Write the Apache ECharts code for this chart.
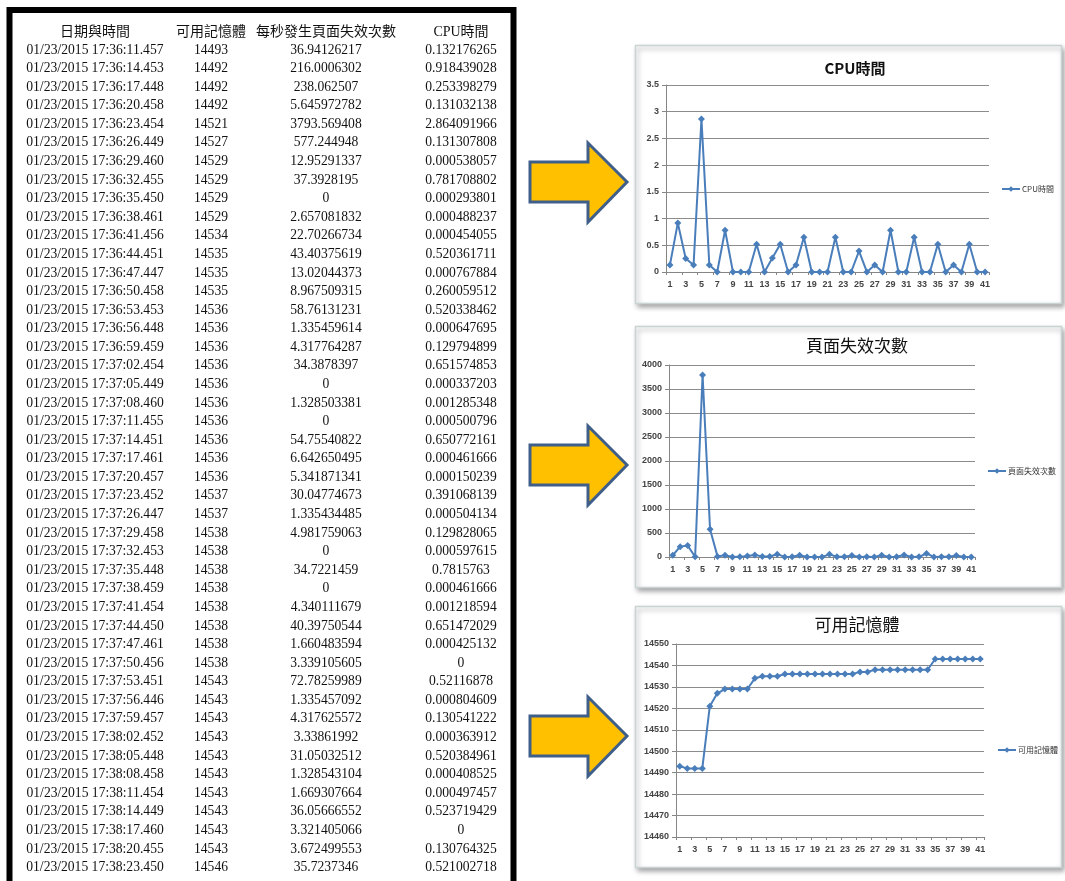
<!DOCTYPE html>
<html><head><meta charset="utf-8">
<script src="https://cdn.jsdelivr.net/npm/echarts@6/dist/echarts.min.js"></script>
<style>html,body{margin:0;padding:0;background:#fff}#c{width:1065px;height:881px}</style>
</head><body><div id="c"></div>
<script>
const headers = ['日期與時間', '可用記憶體', '每秒發生頁面失效次數', 'CPU時間'];
const timestamps = [
'01/23/2015 17:36:11.457','01/23/2015 17:36:14.453','01/23/2015 17:36:17.448','01/23/2015 17:36:20.458',
'01/23/2015 17:36:23.454','01/23/2015 17:36:26.449','01/23/2015 17:36:29.460','01/23/2015 17:36:32.455',
'01/23/2015 17:36:35.450','01/23/2015 17:36:38.461','01/23/2015 17:36:41.456','01/23/2015 17:36:44.451',
'01/23/2015 17:36:47.447','01/23/2015 17:36:50.458','01/23/2015 17:36:53.453','01/23/2015 17:36:56.448',
'01/23/2015 17:36:59.459','01/23/2015 17:37:02.454','01/23/2015 17:37:05.449','01/23/2015 17:37:08.460',
'01/23/2015 17:37:11.455','01/23/2015 17:37:14.451','01/23/2015 17:37:17.461','01/23/2015 17:37:20.457',
'01/23/2015 17:37:23.452','01/23/2015 17:37:26.447','01/23/2015 17:37:29.458','01/23/2015 17:37:32.453',
'01/23/2015 17:37:35.448','01/23/2015 17:37:38.459','01/23/2015 17:37:41.454','01/23/2015 17:37:44.450',
'01/23/2015 17:37:47.461','01/23/2015 17:37:50.456','01/23/2015 17:37:53.451','01/23/2015 17:37:56.446',
'01/23/2015 17:37:59.457','01/23/2015 17:38:02.452','01/23/2015 17:38:05.448','01/23/2015 17:38:08.458',
'01/23/2015 17:38:11.454','01/23/2015 17:38:14.449','01/23/2015 17:38:17.460','01/23/2015 17:38:20.455',
'01/23/2015 17:38:23.450'];
const availableMemory = [14493,14492,14492,14492,14521,14527,14529,14529,14529,14529,14534,14535,14535,14535,14536,14536,14536,14536,14536,14536,14536,14536,14536,14536,14537,14537,14538,14538,14538,14538,14538,14538,14538,14538,14543,14543,14543,14543,14543,14543,14543,14543,14543,14543,14546];
const pageFaults = [36.94126217,216.0006302,238.062507,5.645972782,3793.569408,577.244948,12.95291337,37.3928195,0,2.657081832,22.70266734,43.40375619,13.02044373,8.967509315,58.76131231,1.335459614,4.317764287,34.3878397,0,1.328503381,0,54.75540822,6.642650495,5.341871341,30.04774673,1.335434485,4.981759063,0,34.7221459,0,4.340111679,40.39750544,1.660483594,3.339105605,72.78259989,1.335457092,4.317625572,3.33861992,31.05032512,1.328543104,1.669307664,36.05666552,3.321405066,3.672499553,35.7237346];
const cpuTime = [0.132176265,0.918439028,0.253398279,0.131032138,2.864091966,0.131307808,0.000538057,0.781708802,0.000293801,0.000488237,0.000454055,0.520361711,0.000767884,0.260059512,0.520338462,0.000647695,0.129794899,0.651574853,0.000337203,0.001285348,0.000500796,0.650772161,0.000461666,0.000150239,0.391068139,0.000504134,0.129828065,0.000597615,0.7815763,0.000461666,0.001218594,0.651472029,0.000425132,0,0.52116878,0.000804609,0.130541222,0.000363912,0.520384961,0.000408525,0.000497457,0.523719429,0,0.130764325,0.521002718];
const chartPoints = ['1','2','3','4','5','6','7','8','9','10','11','12','13','14','15','16','17','18','19','20','21','22','23','24','25','26','27','28','29','30','31','32','33','34','35','36','37','38','39','40','41'];
const chartTitles = ['CPU時間', '頁面失效次數', '可用記憶體'];

const N = chartPoints.length;
const LINE = '#4A7EBB';
const serif = '"Liberation Serif","Times New Roman","Noto Sans CJK TC",serif';
const colX = [95, 211, 326, 461];

const graphics = [];
// table frame
graphics.push({type:'rect', z:1, shape:{x:9.5, y:10, width:504, height:900},
  style:{fill:'#fff', stroke:'#000', lineWidth:6}});
headers.forEach((h, i) => graphics.push({type:'text', z:2,
  style:{text:h, x:colX[i], y:32, font:'14px ' + serif, fill:'#111',
    textAlign:'center', textVerticalAlign:'middle', align:'center', verticalAlign:'middle'}}));
timestamps.forEach((t, r) => {
  const y = 50 + r * 18.58;
  const cells = [t, String(availableMemory[r]), String(pageFaults[r]), String(cpuTime[r])];
  cells.forEach((c, i) => graphics.push({type:'text', z:2,
    style:{text:c, x:colX[i], y:y, font:'13.6px ' + serif, fill:'#111',
      textAlign:'center', textVerticalAlign:'middle', align:'center', verticalAlign:'middle'}}));
});
// arrows
[182, 465, 736].forEach(cy => graphics.push({type:'polygon', z:2,
  shape:{points:[[530,cy-20],[588,cy-20],[588,cy-39],[627,cy],[588,cy+40],[588,cy+20],[530,cy+20]]},
  style:{fill:'#FFC000', stroke:'#3F5F8A', lineWidth:3, lineJoin:'miter'}}));
// chart frames
[[45,258],[326,261],[606,261]].forEach(([y,h]) => graphics.push({type:'rect', z:0,
  shape:{x:635.5, y:y+0.5, width:426, height:h},
  style:{fill:'#fff', stroke:'#c9d3d3', lineWidth:1.5, shadowBlur:5, shadowOffsetX:2, shadowOffsetY:3, shadowColor:'rgba(0,0,0,0.35)'}}));

const grids = [
  {left:666, top:85, width:323, height:187},
  {left:669, top:365, width:306, height:192},
  {left:676, top:644, width:308, height:193}
];
const yRanges = [{min:0,max:3.5,interval:0.5},{min:0,max:4000,interval:500},{min:14460,max:14550,interval:10}];
const seriesData = [cpuTime.slice(0,N), pageFaults.slice(0,N), availableMemory.slice(0,N)];
const titlePos = [[850,56,15,'bold'],[852,332,17,'normal'],[852,611,17,'normal']];
const legendPos = [[1001,185],[987,467],[997,746]];

const option = {
  animation:false,
  backgroundColor:'#fff',
  graphic:{elements:graphics},
  title: chartTitles.map((t,i) => ({text:t, left:titlePos[i][0], top:titlePos[i][1], textAlign:'center',
    textStyle:{fontSize:titlePos[i][2], fontWeight:titlePos[i][3], color:'#111', fontFamily:'"Noto Sans CJK TC","Liberation Sans",sans-serif'}})),
  legend: chartTitles.map((t,i) => ({data:[t], left:legendPos[i][0], top:legendPos[i][1], itemWidth:18, itemHeight:7,
    textStyle:{fontSize:8, color:'#333', fontFamily:'"Noto Sans CJK TC",sans-serif', padding:[0,0,0,-3]}, padding:0, itemGap:4})),
  grid: grids,
  xAxis: grids.map((g,i) => ({type:'category', gridIndex:i, data:chartPoints, boundaryGap:true,
    axisLine:{lineStyle:{color:'#868686'}},
    axisTick:{show:true, length:3, lineStyle:{color:'#868686'}},
    axisLabel:{interval:1, fontSize:9, fontWeight:'bold', color:'#444', margin:8}})),
  yAxis: grids.map((g,i) => ({type:'value', gridIndex:i, min:yRanges[i].min, max:yRanges[i].max, interval:yRanges[i].interval,
    axisLine:{show:true, lineStyle:{color:'#868686'}},
    axisTick:{show:true, length:4, lineStyle:{color:'#868686'}},
    splitLine:{lineStyle:{color:'#8c8c8c', width:1}},
    axisLabel:{fontSize:9, fontWeight:'bold', color:'#444', margin:7, formatter:v => String(v)}})),
  series: chartTitles.map((t,i) => ({type:'line', name:t, xAxisIndex:i, yAxisIndex:i, data:seriesData[i],
    symbol:'diamond', symbolSize:7, showAllSymbol:true,
    lineStyle:{color:LINE, width:2}, itemStyle:{color:LINE}}))
};
const chart = echarts.init(document.getElementById('c'), null, {renderer:'canvas'});
chart.setOption(option);
</script></body></html>
